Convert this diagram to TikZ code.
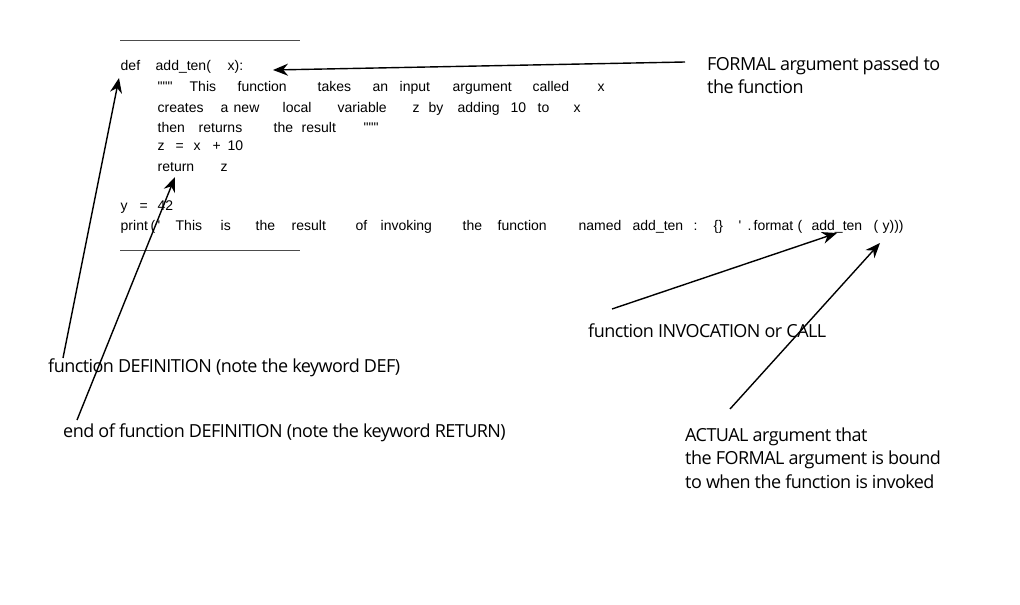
\documentclass[tikz,border=0pt]{standalone}
\usepackage{fontspec}
\setmainfont{Open Sans}
\newfontfamily\codefont{Liberation Sans}
\usetikzlibrary{positioning}
\usetikzlibrary{arrows.meta}
\newcommand{\tok}[2]{\rlap{\hspace*{#1pt}#2}}
\tikzset{
    codeline/.style = {anchor=base west, inner sep=0pt, font=\codefont\fontsize{14}{16}\selectfont},
    note/.style = {anchor=west, inner sep=0pt, align=left, font=\addfontfeature{LetterSpace=-3}\fontsize{18}{23.5}\selectfont},
    rulen/.style = {line width=1pt, black!70},
    edgen/.style = {-{Stealth[length=15pt,width=12pt]}, line width=1.4pt}
}
\begin{document}
\begin{tikzpicture}[x=1pt,y=-1pt]
\useasboundingbox (0,0) rectangle (1020,605);
%
\draw[rulen] (120,40) -- (300,40);
\draw[rulen] (120,250) -- (300,250);
%
\node[codeline] at (120,70) (def) {\tok{0}{def}\tok{35}{add\_ten(}\tok{107}{x):}};
\node[codeline] at (157,91) (doc1) {\tok{0}{\symbol{34}\symbol{34}\symbol{34}}\tok{32}{This}\tok{80}{function}\tok{160}{takes}\tok{215}{an}\tok{242}{input}\tok{295}{argument}\tok{375}{called}\tok{440}{x}};
\node[codeline] at (157,112) (doc2) {\tok{0}{creates}\tok{63}{a}\tok{76}{new}\tok{125}{local}\tok{180}{variable}\tok{255}{z}\tok{271}{by}\tok{300}{adding}\tok{353}{10}\tok{380}{to}\tok{416}{x}};
\node[codeline] at (157,132) (doc3) {\tok{0}{then}\tok{41}{returns}\tok{116}{the}\tok{144}{result}\tok{206}{\symbol{34}\symbol{34}\symbol{34}}};
\node[codeline] at (157,150) (body) {\tok{0}{z}\tok{18}{=}\tok{36}{x}\tok{55}{+}\tok{70}{10}};
\node[codeline] at (157,171) (ret) {\tok{0}{return}\tok{63}{z}};
\node[codeline] at (120,210) (assign) {\tok{0}{y}\tok{19}{=}\tok{37}{42}};
\node[codeline] at (120,230) (call) {\tok{0}{print}\tok{30}{(\,\symbol{39}}\tok{55}{This}\tok{100}{is}\tok{135}{the}\tok{171}{result}\tok{235}{of}\tok{260}{invoking}\tok{342}{the}\tok{377}{function}\tok{458}{named}\tok{512}{add\_ten}\tok{573}{:}\tok{593}{\{\}}\tok{618}{\symbol{39}}\tok{627}{.}\tok{633}{format}\tok{677}{(}\tok{691}{add\_ten}\tok{753}{(}\tok{762}{y)))}};
%
\node[note] at (707,75) (formal) {FORMAL argument passed to\\the function};
\node[note] at (48,368) (defn) {function DEFINITION (note the keyword DEF)};
\node[note] at (63,433) (endn) {end of function DEFINITION (note the keyword RETURN)};
\node[note] at (588,331) (invoke) {function INVOCATION or CALL};
\node[note] at (685,458) (actual) {ACTUAL argument that\\the FORMAL argument is bound\\to when the function is invoked};
%
\coordinate (formals) at (685,62);
\coordinate (formalt) at (273,70);
\coordinate (defs) at (63,358);
\coordinate (deft) at (119,78);
\coordinate (rets) at (77,420);
\coordinate (rett) at (175,177);
\coordinate (invokes) at (612,309);
\coordinate (invoket) at (837,233);
\coordinate (actuals) at (730,409);
\coordinate (actualt) at (880,243);
%
\draw[edgen] (formals) -- (formalt);
\draw[edgen] (defs) -- (deft);
\draw[edgen] (rets) -- (rett);
\draw[edgen] (invokes) -- (invoket);
\draw[edgen] (actuals) -- (actualt);

\end{tikzpicture}
\end{document}
